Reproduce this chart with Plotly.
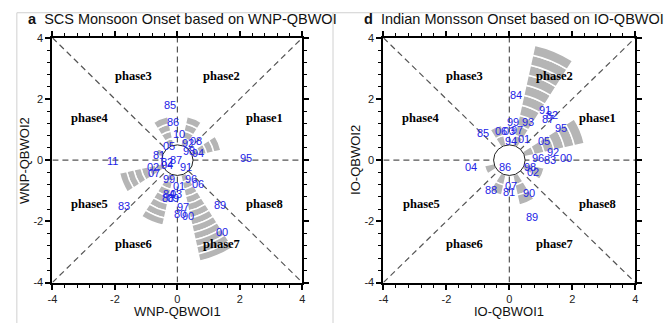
import plotly.graph_objects as go

# ---------------- data ----------------
# petal directions (deg, counter-clockwise from +x) and number of stacked segments
left_theta = [22.5, 67.5, 112.5, 157.5, 202.5, 247.5, 292.5]
left_counts = [4, 4, 4, 1, 6, 7, 12]
right_theta = [22.5, 67.5, 112.5, 202.5, 247.5, 292.5, 337.5]
right_counts = [6, 10, 2, 1, 2, 3, 2]
left_seg = 0.24
right_seg = 0.335
inner_r = 0.5

# onset years (labels) and their (QBWOI1, QBWOI2) positions
left_years = ["85", "86", "10", "08", "92", "98", "94", "05", "81", "82", "87", "04",
              "91", "02", "07", "11", "95", "99", "96", "06", "01", "84", "03", "88",
              "09", "83", "97", "80", "90", "89", "00"]
left_x = [-0.23, -0.14, 0.05, 0.58, 0.33, 0.36, 0.65, -0.27, -0.59, -0.33, -0.06, -0.33,
          0.26, -0.78, -0.75, -2.09, 2.18, -0.27, 0.44, 0.67, 0.05, -0.27, -0.04, -0.30,
          -0.14, -1.70, 0.17, 0.08, 0.33, 1.35, 1.42]
left_y = [1.80, 1.24, 0.86, 0.63, 0.55, 0.31, 0.24, 0.47, 0.16, -0.05, 0.00, -0.17,
          -0.23, -0.23, -0.42, -0.02, 0.08, -0.60, -0.63, -0.79, -0.86, -1.10, -1.10, -1.23,
          -1.23, -1.49, -1.52, -1.76, -1.83, -1.45, -2.36]

right_years = ["84", "91", "82", "87", "95", "99", "93", "85", "06", "03", "97", "94",
               "01", "05", "92", "96", "83", "00", "04", "86", "98", "02", "07", "81",
               "88", "90", "89"]
right_x = [0.21, 1.13, 1.34, 1.24, 1.64, 0.11, 0.59, -0.83, -0.25, -0.02, 0.25, 0.04,
           0.45, 1.11, 1.39, 0.92, 1.29, 1.81, -1.22, -0.14, 0.66, 0.74, 0.04, -0.02,
           -0.59, 0.61, 0.72]
right_y = [2.12, 1.63, 1.49, 1.36, 1.05, 1.26, 1.24, 0.89, 0.94, 0.94, 0.97, 0.63,
           0.70, 0.63, 0.26, 0.08, 0.02, 0.08, -0.23, -0.21, -0.23, -0.39, -0.84, -1.05,
           -0.97, -1.07, -1.87]

phase_names = ["phase1", "phase2", "phase3", "phase4", "phase5", "phase6", "phase7", "phase8"]
phase_x = [2.80, 1.42, -1.42, -2.80, -2.80, -1.42, 1.42, 2.80]
phase_y = [1.38, 2.75, 2.75, 1.38, -1.42, -2.75, -2.75, -1.42]

tick_vals = [-4, -2, 0, 2, 4]
tick_text = ["-4", "-2", "0", "2", "4"]

# ---------------- layout geometry ----------------
W, H = 664, 329
def px_x(p): return p / W
def px_y(p): return 1 - p / H

dom_y = [px_y(287), px_y(33)]
dom_x1 = [px_x(48), px_x(301)]
dom_x2 = [px_x(383), px_x(638)]

BLUE = "#2222e6"
GRAY = "#b5b5b5"
SANS = "Liberation Sans, Arial, sans-serif"
SERIF = "Liberation Serif, Times New Roman, serif"

fig = go.Figure()

def petals(theta, counts, seg, subplot):
    th, rr, bb = [], [], []
    for t, c in zip(theta, counts):
        for k in range(c):
            th.append(t)
            rr.append(seg)
            bb.append(inner_r + k * seg)
    fig.add_trace(go.Barpolar(theta=th, r=rr, base=bb, width=20,
                              marker=dict(color=GRAY, line=dict(color="white", width=1.5)),
                              subplot=subplot, showlegend=False, hoverinfo="skip"))

petals(left_theta, left_counts, left_seg, "polar")
petals(right_theta, right_counts, right_seg, "polar2")

# invisible traces to create cartesian subplots
fig.add_trace(go.Scatter(x=[None], y=[None], xaxis="x", yaxis="y", showlegend=False))
fig.add_trace(go.Scatter(x=[None], y=[None], xaxis="x2", yaxis="y2", showlegend=False))

axis_common = dict(range=[-4, 4], showgrid=False, zeroline=False, showline=True,
                   linecolor="black", linewidth=2, mirror="ticks", ticks="outside",
                   ticklen=5, tickwidth=1.5, tickcolor="black",
                   tickvals=tick_vals, ticktext=tick_text,
                   tickfont=dict(family=SANS, size=11, color="#222"),
                   minor=dict(dtick=0.4, tick0=0, ticks="outside", ticklen=3,
                              tickwidth=1, tickcolor="black", showgrid=False))

polar_common = dict(bgcolor="rgba(0,0,0,0)", barmode="overlay",
                    radialaxis=dict(range=[0, 4], visible=False),
                    angularaxis=dict(visible=False, rotation=0, direction="counterclockwise"))

fig.update_layout(
    width=W, height=H, margin=dict(l=0, r=0, t=0, b=0),
    paper_bgcolor="white", plot_bgcolor="white", showlegend=False,
    xaxis=dict(domain=dom_x1, anchor="y", **axis_common),
    yaxis=dict(domain=dom_y, anchor="x", **axis_common),
    xaxis2=dict(domain=dom_x2, anchor="y2", **axis_common),
    yaxis2=dict(domain=dom_y, anchor="x2", **axis_common),
    polar=dict(domain=dict(x=dom_x1, y=dom_y), **polar_common),
    polar2=dict(domain=dict(x=dom_x2, y=dom_y), **polar_common),
)

shapes = []
for xr, yr in [("x", "y"), ("x2", "y2")]:
    dl = dict(color="#555", width=1.2, dash="6px,4px")
    for (x0, y0, x1, y1) in [(-4, -4, 4, 4), (-4, 4, 4, -4), (-4, 0, 4, 0), (0, -4, 0, 4)]:
        shapes.append(dict(type="line", xref=xr, yref=yr, x0=x0, y0=y0, x1=x1, y1=y1,
                           line=dl, layer="below"))
    shapes.append(dict(type="circle", xref=xr, yref=yr, x0=-inner_r, y0=-inner_r,
                       x1=inner_r, y1=inner_r, fillcolor="white",
                       line=dict(color="#222", width=1), layer="above"))
# light frame lines of the figure panels
frame = dict(color="#d0d0d0", width=1)
shapes.append(dict(type="line", xref="paper", yref="paper", x0=px_x(12), x1=px_x(12),
                   y0=0, y1=px_y(7), line=frame))
shapes.append(dict(type="line", xref="paper", yref="paper", x0=px_x(332), x1=px_x(332),
                   y0=0, y1=px_y(7), line=frame))
shapes.append(dict(type="line", xref="paper", yref="paper", x0=px_x(12), x1=1,
                   y0=px_y(7), y1=px_y(7), line=frame))
fig.update_layout(shapes=shapes)

ann = []
for yrs, xs, ys, xr, yr in [(left_years, left_x, left_y, "x", "y"),
                            (right_years, right_x, right_y, "x2", "y2")]:
    for t, x, y in zip(yrs, xs, ys):
        ann.append(dict(text=t, x=x, y=y, xref=xr, yref=yr, showarrow=False,
                        font=dict(family=SANS, size=11, color=BLUE),
                        xanchor="center", yanchor="middle"))
    for t, x, y in zip(phase_names, phase_x, phase_y):
        ann.append(dict(text="<b>" + t + "</b>", x=x, y=y, xref=xr, yref=yr, showarrow=False,
                        font=dict(family=SERIF, size=12.5, color="black"),
                        xanchor="center", yanchor="middle"))

# titles
ann.append(dict(text="<b>a</b>  SCS Monsoon Onset based on WNP-QBWOI", x=px_x(21), y=px_y(13),
                xref="paper", yref="paper", showarrow=False, xanchor="left", yanchor="middle",
                font=dict(family=SANS, size=14.5, color="#111")))
ann.append(dict(text="<b>d</b>  Indian Monsson Onset based on IO-QBWOI", x=px_x(361), y=px_y(13),
                xref="paper", yref="paper", showarrow=False, xanchor="left", yanchor="middle",
                font=dict(family=SANS, size=14.5, color="#111")))
# axis titles
for txt, xc in [("WNP-QBWOI1", 174.5), ("IO-QBWOI1", 510.5)]:
    ann.append(dict(text=txt, x=px_x(xc), y=px_y(317), xref="paper", yref="paper",
                    showarrow=False, xanchor="center", yanchor="middle",
                    font=dict(family=SANS, size=13, color="#111")))
for txt, xc in [("WNP-QBWOI2", 19), ("IO-QBWOI2", 354)]:
    ann.append(dict(text=txt, x=px_x(xc), y=px_y(160), xref="paper", yref="paper",
                    showarrow=False, xanchor="center", yanchor="middle", textangle=-90,
                    font=dict(family=SANS, size=13, color="#111")))
fig.update_layout(annotations=ann)

fig.write_html("out.html", config={"displayModeBar": False},
               post_script="document.body.style.margin='0px';document.body.style.overflow='hidden';")
